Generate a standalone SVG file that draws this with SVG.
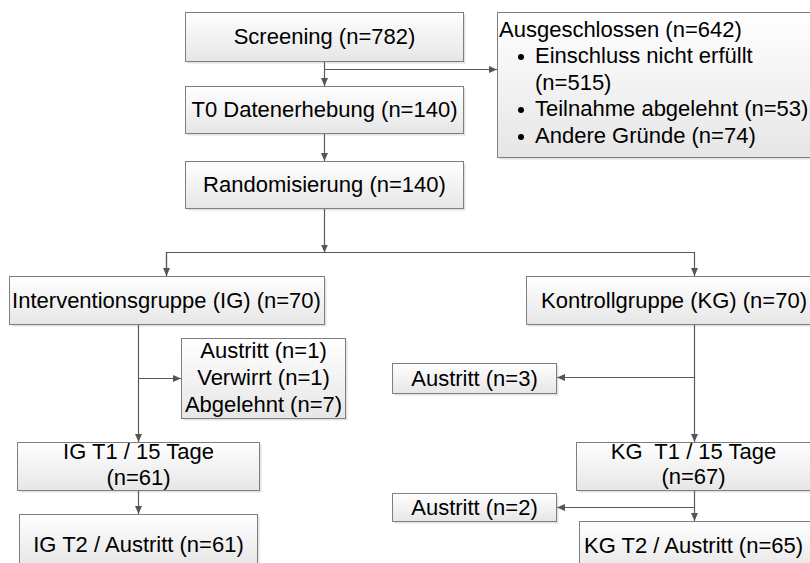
<svg xmlns="http://www.w3.org/2000/svg" width="810" height="563" viewBox="0 0 810 563">
<defs>
<linearGradient id="g" x1="0" y1="0" x2="0" y2="1">
<stop offset="0" stop-color="#ffffff"/>
<stop offset="1" stop-color="#e6e6e6"/>
</linearGradient>
<marker id="a" viewBox="0 0 8 8" refX="8" refY="4" markerWidth="8" markerHeight="8" markerUnits="userSpaceOnUse" orient="auto">
<path d="M0,0.5 L8,4 L0,7.5 Z" fill="#555"/>
</marker>
</defs>
<style>
.b{fill:url(#g);stroke:#7f7f7f;stroke-width:1}
.s{fill:#d0d0d0;opacity:0.6}
.t{font-family:"Liberation Sans",Arial,sans-serif;font-size:22px;fill:#000}
.m{text-anchor:middle}
.c{fill:none;stroke:#595959;stroke-width:1.2}
</style>
<rect width="810" height="563" fill="#fff"/>
<g id="screening"><rect class="s" x="187.5" y="14.5" width="278" height="49"/><rect class="b" x="185.5" y="12.5" width="278" height="49"/><text class="t m" x="324.5" y="44">Screening (n=782)</text></g>
<g id="t0"><rect class="s" x="187.5" y="88.5" width="278" height="47"/><rect class="b" x="185.5" y="86.5" width="278" height="47"/><text class="t m" x="324.5" y="117">T0 Datenerhebung (n=140)</text></g>
<g id="random"><rect class="s" x="187.5" y="163.5" width="278" height="47"/><rect class="b" x="185.5" y="161.5" width="278" height="47"/><text class="t m" x="324.5" y="192">Randomisierung (n=140)</text></g>
<g id="excluded"><rect class="s" x="499.5" y="14.5" width="320" height="145"/><rect class="b" x="497.5" y="12.5" width="320" height="145"/>
<text class="t" x="499" y="37">Ausgeschlossen (n=642)</text>
<circle cx="521" cy="57" r="3" fill="#000"/><text class="t" x="535" y="63">Einschluss nicht erfüllt</text>
<text class="t" x="535" y="90">(n=515)</text>
<circle cx="521" cy="110" r="3" fill="#000"/><text class="t" x="535" y="116">Teilnahme abgelehnt (n=53)</text>
<circle cx="521" cy="137" r="3" fill="#000"/><text class="t" x="535" y="143">Andere Gründe (n=74)</text></g>
<g id="ig"><rect class="s" x="11.5" y="278.5" width="315" height="48"/><rect class="b" x="9.5" y="276.5" width="315" height="48"/><text class="t m" x="166.5" y="308">Interventionsgruppe (IG) (n=70)</text></g>
<g id="kg"><rect class="s" x="528.5" y="278.5" width="290" height="48"/><rect class="b" x="526.5" y="276.5" width="290" height="48"/><text class="t" x="541" y="308">Kontrollgruppe (KG) (n=70)</text></g>
<g id="ig-drop"><rect class="s" x="183.5" y="340.5" width="164" height="80"/><rect class="b" x="181.5" y="338.5" width="164" height="80"/>
<text class="t m" x="263.5" y="358">Austritt (n=1)</text><text class="t m" x="263.5" y="385">Verwirrt (n=1)</text><text class="t m" x="263.5" y="412">Abgelehnt (n=7)</text></g>
<g id="kg-drop1"><rect class="s" x="394.5" y="365.5" width="164" height="30"/><rect class="b" x="392.5" y="363.5" width="164" height="30"/><text class="t m" x="474.5" y="386">Austritt (n=3)</text></g>
<g id="igt1"><rect class="s" x="19.5" y="444.5" width="242" height="48"/><rect class="b" x="17.5" y="442.5" width="242" height="48"/><text class="t m" x="138.5" y="459">IG T1 / 15 Tage</text><text class="t m" x="138.5" y="485">(n=61)</text></g>
<g id="igt2"><rect class="s" x="21.5" y="516.5" width="238" height="50"/><rect class="b" x="19.5" y="514.5" width="238" height="50"/><text class="t m" x="138.5" y="552">IG T2 / Austritt (n=61)</text></g>
<g id="kgt1"><rect class="s" x="578.5" y="444.5" width="240" height="48"/><rect class="b" x="576.5" y="442.5" width="240" height="48"/><text class="t m" x="693.5" y="459" xml:space="preserve">KG  T1 / 15 Tage</text><text class="t m" x="693.5" y="484">(n=67)</text></g>
<g id="kg-drop2"><rect class="s" x="394.5" y="495.5" width="164" height="28"/><rect class="b" x="392.5" y="493.5" width="164" height="28"/><text class="t m" x="474.5" y="515">Austritt (n=2)</text></g>
<g id="kgt2"><rect class="s" x="581.5" y="523.5" width="240" height="50"/><rect class="b" x="579.5" y="521.5" width="240" height="50"/><text class="t" x="584" y="553">KG T2 / Austritt (n=65)</text></g>
<g id="connectors">
<path class="c" d="M324.5,62 V86" marker-end="url(#a)"/>
<path class="c" d="M324.5,69.5 H497" marker-end="url(#a)"/>
<path class="c" d="M324.5,134 V161" marker-end="url(#a)"/>
<path class="c" d="M324.5,209 V252.5" marker-end="url(#a)"/>
<path class="c" d="M166.5,276 V252.5 H694.5 V276" marker-end="url(#a)"/>
<path class="c" d="M166.5,252.5 V276" marker-end="url(#a)"/>
<path class="c" d="M138.5,325 V442" marker-end="url(#a)"/>
<path class="c" d="M138.5,378.5 H181" marker-end="url(#a)"/>
<path class="c" d="M138.5,491 V514" marker-end="url(#a)"/>
<path class="c" d="M694.5,325 V442" marker-end="url(#a)"/>
<path class="c" d="M694.5,377.5 H557" marker-end="url(#a)"/>
<path class="c" d="M694.5,491 V521" marker-end="url(#a)"/>
<path class="c" d="M694.5,507.5 H557" marker-end="url(#a)"/>
</g>
</svg>
